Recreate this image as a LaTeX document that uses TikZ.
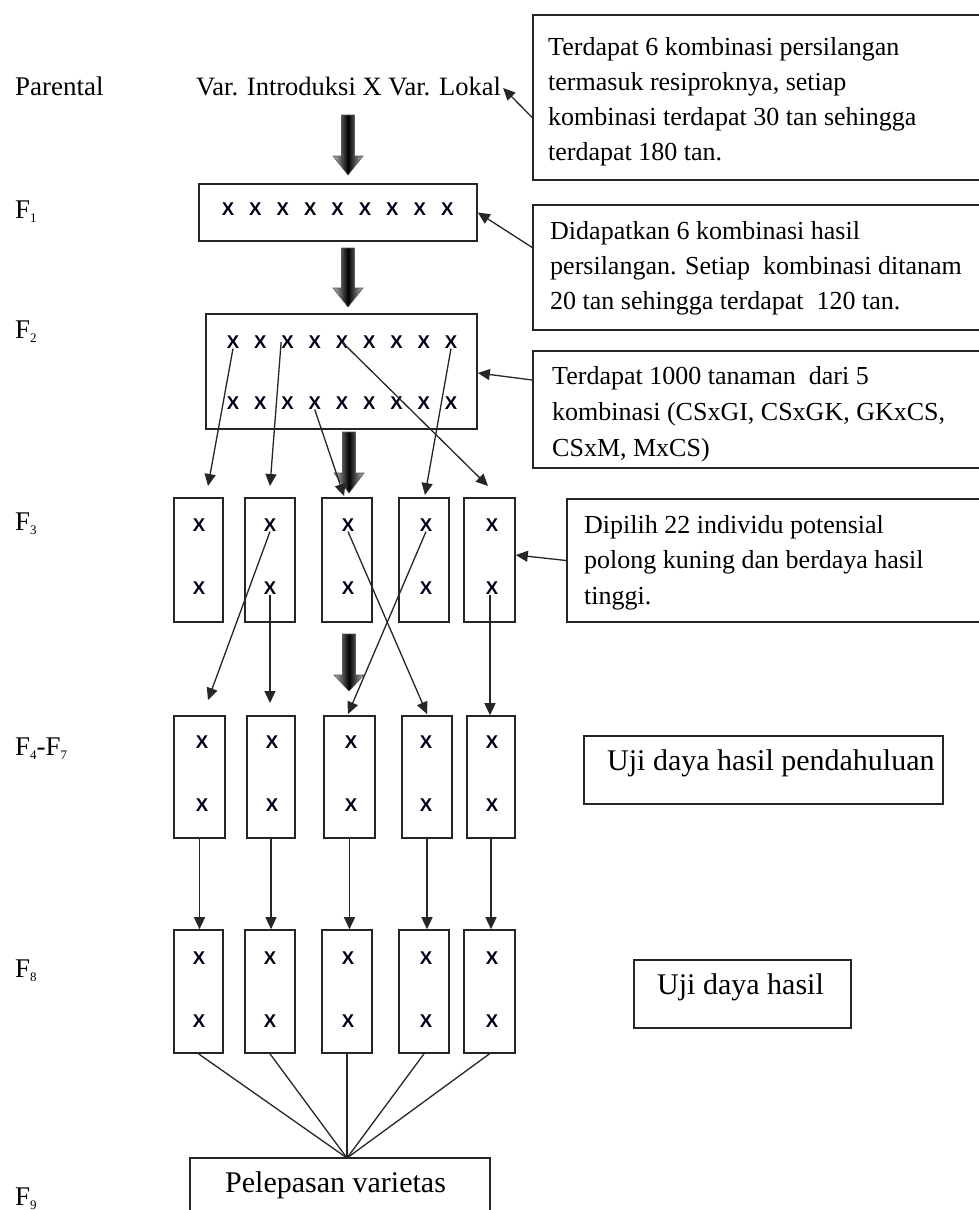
\documentclass[tikz,border=0pt]{standalone}
\usepackage{fontspec}
\setmainfont{Liberation Serif}
\newfontfamily\xfont{Liberation Sans}
\usetikzlibrary{arrows.meta}
\newcommand\Fsub[1]{F\raisebox{-4pt}{\fontsize{13}{13}\selectfont #1}}
\newcommand\blockarr[4]{%
  \shade[left color=gray!55, right color=gray!55, middle color=black, draw=gray!70!black, line width=0.6pt]
   ({#1-6.5},#2) -- ({#1+6.5},#2) -- ({#1+6.5},#3) -- ({#1+15},#3) -- (#1,#4) -- ({#1-15},#3) -- ({#1-6.5},#3) -- cycle;}
\begin{document}
\begin{tikzpicture}[x=1pt,y=-1pt,
  rbox/.style={draw=black!85, line width=1.6pt, inner sep=0pt},
  xm/.style={font=\xfont\bfseries\fontsize{18.5}{18.5}\selectfont, inner sep=0pt, text=black!90!blue},
  arr/.style={-{Triangle[length=12pt,width=11pt]}, line width=1.3pt, draw=black!85},
  ln/.style={line width=1.3pt, draw=black!85},
  btxt/.style={font=\fontsize{26}{35}\selectfont, align=left, inner sep=0pt, anchor=north west},
  lab/.style={font=\fontsize{27}{27}\selectfont, inner sep=0pt, anchor=base west},
  big/.style={font=\fontsize{30}{30}\selectfont, inner sep=0pt, anchor=base west}]
\fill[white] (0,0) rectangle (978,1210);
\useasboundingbox (0,0) rectangle (978,1210);

% block arrows
\blockarr{348}{115}{156}{175}
\blockarr{348}{248}{288}{307}
\blockarr{349}{432}{473}{493}
\blockarr{349}{634}{675}{691}

% left labels
\node[lab] (lpar) at (15,95) {Parental};
\node[lab] (lf1) at (15,218) {\Fsub{1}};
\node[lab] (lf2) at (15,338) {\Fsub{2}};
\node[lab] (lf3) at (15,530) {\Fsub{3}};
\node[lab] (lf4) at (15,755) {\Fsub{4}-\Fsub{7}};
\node[lab] (lf8) at (15,977) {\Fsub{8}};
\node[lab] (lf9) at (15,1205) {\Fsub{9}};

\node[lab, font=\fontsize{26.5}{26.5}\selectfont] (intro) at (196,95) {Var. Introduksi X Var. Lokal};

% right boxes
\node[rbox, minimum width=457pt, minimum height=165pt] (bA) at (761.5,97.5) {};
\node[btxt] (tA) at (548,37) {Terdapat 6 kombinasi persilangan\\termasuk resiproknya, setiap\\kombinasi terdapat 30 tan sehingga\\terdapat 180 tan.};
\node[rbox, minimum width=457pt, minimum height=125pt] (bB) at (761.5,267.5) {};
\node[btxt] (tB) at (550,221) {Didapatkan 6 kombinasi hasil\\persilangan. Setiap\ \ kombinasi ditanam\\20 tan sehingga terdapat\ \ 120 tan.};
\node[rbox, minimum width=457pt, minimum height=117pt] (bC) at (761.5,409.5) {};
\node[btxt, font=\fontsize{26}{36}\selectfont] (tC) at (552,366) {Terdapat 1000 tanaman\ \ dari 5\\kombinasi (CSxGI, CSxGK, GKxCS,\\CSxM, MxCS)};
\node[rbox, minimum width=423pt, minimum height=123pt] (bD) at (778.5,560.5) {};
\node[btxt, font=\fontsize{26}{35.5}\selectfont] (tD) at (584,515) {Dipilih 22 individu potensial\\polong kuning dan berdaya hasil\\tinggi.};
\node[rbox, minimum width=359pt, minimum height=68pt] (bE) at (763.5,770) {};
\node[big] (tE) at (607,770) {Uji daya hasil pendahuluan};
\node[rbox, minimum width=217pt, minimum height=68pt] (bF) at (742.5,994) {};
\node[big] (tF) at (657,994) {Uji daya hasil};

% F1 and F2
\node[rbox, minimum width=278pt, minimum height=57pt] (f1) at (338,212.5) {};
\foreach \i in {1,...,9} \node[xm] (fa\i) at ({200.6+27.4*\i},209) {X};
\node[rbox, minimum width=271pt, minimum height=115pt] (f2) at (341.5,371.5) {};
\foreach \i in {1,...,9} {
  \node[xm] (ga\i) at ({205.75+27.25*\i},342) {X};
  \node[xm] (gb\i) at ({205.75+27.25*\i},403) {X};
}

% F3 boxes
\foreach \i/\cx/\w/\xx in {1/198.5/49/199,2/270/50/270,3/347/50/348,4/424/50/426,5/489.5/51/492} {
  \node[rbox, minimum width=\w pt, minimum height=124pt] (c\i) at (\cx,560) {};
  \node[xm] (ct\i) at (\xx,525) {X};
  \node[xm] (cb\i) at (\xx,588) {X};
}
% F4-F7 boxes
\foreach \i/\cx/\w/\xx in {1/199.5/51/202,2/271/48/272,3/349.5/51/351,4/427/50/426,5/491/48/492} {
  \node[rbox, minimum width=\w pt, minimum height=122pt] (e\i) at (\cx,777) {};
  \node[xm] (et\i) at (\xx,742) {X};
  \node[xm] (eb\i) at (\xx,805) {X};
}
% F8 boxes
\foreach \i/\cx/\w/\xx in {1/198.5/49/199,2/270/50/270,3/347/50/348,4/424/50/426,5/489.5/51/492} {
  \node[rbox, minimum width=\w pt, minimum height=123pt] (g\i) at (\cx,991.5) {};
  \node[xm] (gt\i) at (\xx,958) {X};
  \node[xm] (gbb\i) at (\xx,1021) {X};
}
% F9
\node[rbox, minimum width=300pt, minimum height=62pt] (f9) at (340,1189) {};
\node[big] (tf9) at (225,1192) {Pelepasan varietas};

% annotation arrows
\draw[arr] ([yshift=-20pt]bA.west) -- ([xshift=2pt,yshift=-2pt]intro.east);
\draw[arr] ([yshift=20pt]bB.west) -- (f1.east);
\draw[arr] ([yshift=29.5pt]bC.west) -- ([yshift=-1.5pt]f2.east);
\draw[arr] (bD.west) -- ([yshift=5pt]c5.east);

% F2 -> F3
\coordinate (t1) at (208,486);
\coordinate (t2) at (270,486);
\coordinate (t3) at (344,496);
\coordinate (t4) at (488,486);
\coordinate (t5) at (425,495);
\draw[arr] (ga1.south) -- (t1);
\draw[arr] (ga3.west) -- (t2);
\draw[arr] (gb4.south) -- (t3);
\draw[arr] (ga5.center) -- (t4);
\draw[arr] (ga9.south) -- (t5);

% F3 -> F4
\coordinate (u1) at (208,700);
\coordinate (u2) at (270,703);
\coordinate (u3) at (427,714);
\coordinate (u4) at (348,714);
\draw[arr] (ct2.south) -- (u1);
\draw[arr] (cb2.south) -- (u2);
\draw[arr] (ct3.south) -- (u3);
\draw[arr] (ct4.south) -- (u4);
\draw[arr] ([xshift=-2pt]cb5.south) -- ([xshift=-2pt]cb5.south |- e5.north);

% F4 -> F8
\foreach \i in {1,...,5} \draw[arr] (e\i.south) -- (e\i.south |- g\i.north);

% F8 -> F9
\coordinate (conv) at (347,1158);
\foreach \i in {1,...,5} \draw[ln] (g\i.south) -- (conv);
\end{tikzpicture}
\end{document}
